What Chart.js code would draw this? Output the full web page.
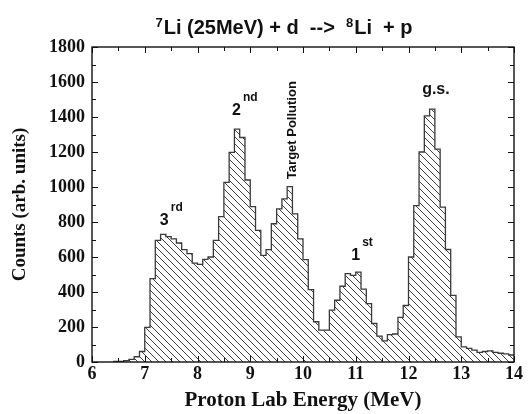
<!DOCTYPE html>
<html lang="en">
<head>
<meta charset="UTF-8">
<script src="https://cdn.jsdelivr.net/npm/chart.js"></script>
<title>7Li (25MeV) + d --> 8Li + p</title>
<style>
  html, body { margin: 0; padding: 0; background: #fff; }
  #wrap { width: 529px; height: 414px; }
</style>
</head>
<body>
<div id="wrap"><canvas id="myChart"></canvas></div>
<script>
// histogram, 0.1 MeV bins, first bin starts at 6.4 MeV
const binStart = 6.4;
const binWidth = 0.1;
const counts = [
  3, 3, 8, 15, 30, 60,                                   // 6.4 - 6.9
  198, 477, 695, 729, 717, 704, 680, 642, 619, 565,      // 7.0 - 7.9
  558, 586, 600, 695, 831, 1027, 1198, 1331, 1283, 1040, // 8.0 - 8.9
  888, 752, 609, 642, 790, 875, 932, 1002, 847, 704,     // 9.0 - 9.9
  585, 414, 230, 182, 182, 296, 353, 433, 505, 495,      // 10.0 - 10.9
  514, 416, 334, 220, 148, 121, 157, 160, 255, 323,      // 11.0 - 11.9
  600, 894, 1200, 1407, 1445, 1217, 885, 643, 381, 144,  // 12.0 - 12.9
  87, 78, 68, 55, 60, 64, 55, 50, 46, 40                 // 13.0 - 13.9
];

const xTicks = [6, 7, 8, 9, 10, 11, 12, 13, 14];
const yTicks = [0, 200, 400, 600, 800, 1000, 1200, 1400, 1600, 1800];

// peak labels: [main, superscript, energy, counts]
const peakLabels = [
  ['3', 'rd', 7.37, 785],
  ['2', 'nd', 8.74, 1410],
  ['1', 'st', 11.0, 585],
  ['g.s.', '', 12.52, 1530]
];
const pollutionLabel = ['Target Pollution', 9.78, 1045];

// step points: value holds from left edge to next edge
const points = counts.map((c, i) => ({ x: +(binStart + i * binWidth).toFixed(2), y: c }));
points.push({ x: +(binStart + counts.length * binWidth).toFixed(2), y: counts[counts.length - 1] });

// hatch pattern "\\\\"
function hatch() {
  const s = 7;
  const c = document.createElement('canvas');
  c.width = s; c.height = s;
  const g = c.getContext('2d');
  g.strokeStyle = '#2a2a2a';
  g.lineWidth = 0.9;
  g.beginPath();
  g.moveTo(-1, -1); g.lineTo(s + 1, s + 1);
  g.moveTo(-1, s - 1); g.lineTo(1, s + 1);
  g.moveTo(s - 1, -1); g.lineTo(s + 1, 1);
  g.stroke();
  return g.createPattern(c, 'repeat');
}

const frameTicks = {
  id: 'frameTicks',
  afterDraw(chart) {
    const { ctx, chartArea: a, scales } = chart;
    ctx.save();
    ctx.strokeStyle = '#111';
    ctx.lineWidth = 1.4;
    ctx.strokeRect(a.left, a.top, a.right - a.left, a.bottom - a.top);
    ctx.lineWidth = 1;
    ctx.beginPath();
    for (let v = 6; v <= 14.001; v += 0.5) {
      const px = Math.round(scales.x.getPixelForValue(v)) + 0.5;
      const len = Number.isInteger(v) ? 6 : 4;
      ctx.moveTo(px, a.bottom); ctx.lineTo(px, a.bottom - len);
      ctx.moveTo(px, a.top); ctx.lineTo(px, a.top + len);
    }
    for (let v = 0; v <= 1800; v += 100) {
      const py = Math.round(scales.y.getPixelForValue(v)) + 0.5;
      const len = v % 200 === 0 ? 6 : 4;
      ctx.moveTo(a.left, py); ctx.lineTo(a.left + len, py);
      ctx.moveTo(a.right, py); ctx.lineTo(a.right - len, py);
    }
    ctx.stroke();

    // title with superscripts
    const parts = [['7', true], ['Li (25MeV) + d  -->  ', false], ['8', true], ['Li  + p', false]];
    const big = "bold 20px 'Liberation Sans', Arial, sans-serif";
    const small = "bold 13px 'Liberation Sans', Arial, sans-serif";
    let w = 0;
    parts.forEach(p => { ctx.font = p[1] ? small : big; w += ctx.measureText(p[0]).width; });
    let x = 283 - w / 2;
    ctx.fillStyle = '#111';
    ctx.textBaseline = 'alphabetic';
    parts.forEach(p => {
      ctx.font = p[1] ? small : big;
      ctx.fillText(p[0], x, p[1] ? 27 : 34);
      x += ctx.measureText(p[0]).width + (p[1] ? 1 : 0);
    });

    // peak labels
    peakLabels.forEach(([m, sup, e, c]) => {
      const px = scales.x.getPixelForValue(e);
      const py = scales.y.getPixelForValue(c);
      ctx.font = "bold 16px 'Liberation Sans', Arial, sans-serif";
      const mw = ctx.measureText(m).width;
      ctx.textAlign = 'left';
      ctx.fillText(m, px - mw / 2, py);
      if (sup) {
        ctx.font = "bold 12px 'Liberation Sans', Arial, sans-serif";
        ctx.fillText(sup, px + mw / 2 + 2, py - 14);
      }
    });
    const [t, te, tc] = pollutionLabel;
    ctx.save();
    ctx.translate(scales.x.getPixelForValue(te) + 5, scales.y.getPixelForValue(tc));
    ctx.rotate(-Math.PI / 2);
    ctx.font = "bold 13px 'Liberation Sans', Arial, sans-serif";
    ctx.textAlign = 'left';
    ctx.fillText(t, 0, 0);
    ctx.restore();
    ctx.restore();
  }
};

const tickFont = { family: "'Liberation Serif', 'Times New Roman', serif", size: 18, weight: 'bold' };
const titleFont = { family: "'Liberation Serif', 'Times New Roman', serif", size: 21, weight: 'bold' };

new Chart(document.getElementById('myChart'), {
  type: 'line',
  data: {
    datasets: [{
      data: points,
      stepped: true,
      borderColor: '#3a3a3a',
      borderWidth: 1.3,
      pointRadius: 0,
      fill: 'origin',
      backgroundColor: hatch()
    }]
  },
  options: {
    responsive: true,
    maintainAspectRatio: false,
    animation: false,
    layout: { padding: { top: 47, right: 15, left: 0, bottom: 0 } },
    plugins: { legend: { display: false }, tooltip: { enabled: false } },
    scales: {
      x: {
        type: 'linear', min: 6, max: 14,
        afterFit: s => { s.height = 52; },
        afterBuildTicks: s => { s.ticks = xTicks.map(v => ({ value: v })); },
        ticks: { font: tickFont, color: '#111', padding: 2, callback: v => String(v) },
        grid: { display: false, drawTicks: false },
        border: { display: false },
        title: { display: true, text: 'Proton Lab Energy (MeV)', font: titleFont, color: '#111', padding: { top: 0, bottom: 1 } }
      },
      y: {
        min: 0, max: 1800,
        afterFit: s => { s.width = 92; },
        afterBuildTicks: s => { s.ticks = yTicks.map(v => ({ value: v })); },
        ticks: { font: tickFont, color: '#111', padding: 7, callback: v => String(v) },
        grid: { display: false, drawTicks: false },
        border: { display: false },
        title: { display: true, text: 'Counts (arb. units)', font: { ...titleFont, size: 19 }, color: '#111', padding: { top: 9, bottom: 0 } }
      }
    }
  },
  plugins: [frameTicks]
});
</script>
</body>
</html>
